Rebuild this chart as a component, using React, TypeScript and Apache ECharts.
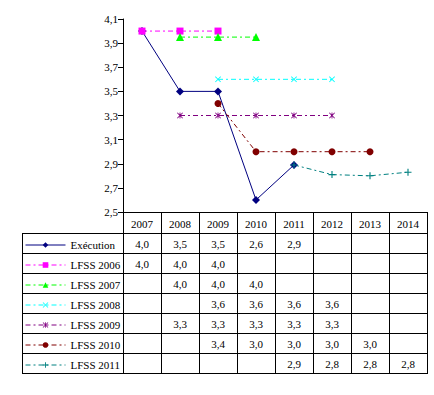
import React, { useEffect, useRef } from "react";
import * as echarts from "echarts";

const years = ["2007", "2008", "2009", "2010", "2011", "2012", "2013", "2014"];
const execution = [4.0, 3.5, 3.5, 2.6, 2.89, null, null, null];
const lfss2006 = [4.0, 4.0, 4.0, null, null, null, null, null];
const lfss2007 = [null, 3.95, 3.95, 3.95, null, null, null, null];
const lfss2008 = [null, null, 3.6, 3.6, 3.6, 3.6, null, null];
const lfss2009 = [null, 3.3, 3.3, 3.3, 3.3, 3.3, null, null];
const lfss2010 = [null, null, 3.4, 3.0, 3.0, 3.0, 3.0, null];
const lfss2011 = [null, null, null, null, 2.89, 2.81, 2.8, 2.83];

const FONT = "Liberation Serif";
const X_PATH = "path://M0,1 L1,0 L5,4 L9,0 L10,1 L6,5 L10,9 L9,10 L5,6 L1,10 L0,9 L4,5 Z";
const STAR_PATH = "path://M0,1 L1,0 L5,4 L9,0 L10,1 L6,5 L10,9 L9,10 L5,6 L1,10 L0,9 L4,5 Z M4.3,0 L5.7,0 L5.7,10 L4.3,10 Z";
const PLUS_PATH = "path://M4.2,0 L5.8,0 L5.8,4.2 L10,4.2 L10,5.8 L5.8,5.8 L5.8,10 L4.2,10 L4.2,5.8 L0,5.8 L0,4.2 L4.2,4.2 Z";

const DASHDOT = [5, 3, 2, 3];
const seriesDefs = [
  { name: "Exécution", data: execution, color: "#000080", symbol: "diamond", size: 8, dash: "solid" as any },
  { name: "LFSS 2006", data: lfss2006, color: "#FF00FF", symbol: "rect", size: 7, dash: DASHDOT },
  { name: "LFSS 2007", data: lfss2007, color: "#00FF00", symbol: "triangle", size: 8, dash: DASHDOT },
  { name: "LFSS 2008", data: lfss2008, color: "#00FFFF", symbol: X_PATH, size: 6, dash: DASHDOT },
  { name: "LFSS 2009", data: lfss2009, color: "#800080", symbol: STAR_PATH, size: 6, dash: DASHDOT },
  { name: "LFSS 2010", data: lfss2010, color: "#800000", symbol: "circle", size: 7, dash: DASHDOT },
  { name: "LFSS 2011", data: lfss2011, color: "#008080", symbol: PLUS_PATH, size: 7, dash: DASHDOT },
];

const GRID_LEFT = 123;
const GRID_RIGHT_X = 427;
const GRID_TOP = 19;
const AXIS_Y = 212;
const HEADER_H = 21;
const ROW_H = 20;
const TABLE_LEFT = 22;

const fmt = (v: number) => v.toFixed(1).replace(".", ",");

export default function App() {
  const ref = useRef<HTMLDivElement>(null);
  useEffect(() => {
    if (!ref.current) return;
    const chart = echarts.init(ref.current, null, { renderer: "svg" });
    const colW = (GRID_RIGHT_X - GRID_LEFT) / years.length;
    const tableTop = AXIS_Y + HEADER_H;
    const tableBottom = tableTop + ROW_H * seriesDefs.length;
    const graphics: any[] = [];
    const lineStyle = { stroke: "#000", lineWidth: 1 };
    for (let r = 0; r <= seriesDefs.length; r++) {
      const y = tableTop + r * ROW_H + 0.5;
      graphics.push({ type: "line", shape: { x1: TABLE_LEFT, y1: y, x2: GRID_RIGHT_X + 1, y2: y }, style: lineStyle, silent: true });
    }
    graphics.push({ type: "line", shape: { x1: TABLE_LEFT + 0.5, y1: tableTop, x2: TABLE_LEFT + 0.5, y2: tableBottom + 1 }, style: lineStyle, silent: true });
    for (let c = 0; c <= years.length; c++) {
      const x = Math.round(GRID_LEFT + c * colW) + 0.5;
      graphics.push({ type: "line", shape: { x1: x, y1: AXIS_Y, x2: x, y2: tableBottom + 1 }, style: lineStyle, silent: true });
    }
    years.forEach((y, c) => {
      graphics.push({
        type: "text",
        x: GRID_LEFT + (c + 0.5) * colW,
        y: AXIS_Y + HEADER_H / 2 + 1,
        style: { text: y, fontFamily: FONT, fontSize: 11, fill: "#000", align: "center", verticalAlign: "middle" },
        silent: true,
      });
    });
    seriesDefs.forEach((s, r) => {
      s.data.forEach((v, c) => {
        if (v == null) return;
        graphics.push({
          type: "text",
          x: GRID_LEFT + (c + 0.5) * colW,
          y: tableTop + r * ROW_H + ROW_H / 2 + 1,
          style: { text: fmt(v), fontFamily: FONT, fontSize: 11, fill: "#000", align: "center", verticalAlign: "middle" },
          silent: true,
        });
      });
    });

    const legends = seriesDefs.map((s, r) => ({
      orient: "horizontal",
      left: TABLE_LEFT + 3,
      top: tableTop + r * ROW_H + ROW_H / 2 - 3.5,
      padding: 0,
      itemWidth: 40,
      itemHeight: 7,
      textStyle: { fontFamily: FONT, fontSize: 11, color: "#000" },
      lineStyle: { width: 1 },
      selectedMode: false,
      data: [s.name],
    }));

    chart.setOption({
      animation: false,
      backgroundColor: "#fff",
      grid: { left: GRID_LEFT, right: 434 - GRID_RIGHT_X, top: GRID_TOP, bottom: 395 - AXIS_Y, containLabel: false },
      xAxis: {
        type: "category",
        data: years,
        boundaryGap: true,
        axisLine: { lineStyle: { color: "#000", width: 1 } },
        axisTick: { show: false },
        axisLabel: { show: false },
        splitLine: { show: false },
      },
      yAxis: {
        type: "value",
        min: 2.5,
        max: 4.1,
        interval: 0.2,
        axisLine: { show: true, lineStyle: { color: "#000", width: 1 } },
        axisTick: { show: true, length: 5, lineStyle: { color: "#000" } },
        axisLabel: { formatter: (v: number) => fmt(v), color: "#000", fontFamily: FONT, fontSize: 11, margin: 5 },
        splitLine: { show: false },
      },
      legend: legends,
      series: seriesDefs.map((s) => ({
        name: s.name,
        type: "line",
        data: s.data,
        connectNulls: false,
        symbol: s.symbol,
        symbolSize: s.size,
        showAllSymbol: true,
        itemStyle: { color: s.color, borderWidth: 0 },
        lineStyle: { color: s.color, width: 1, type: s.dash },
        emphasis: { disabled: true },
      })),
      graphic: graphics,
    });
    return () => chart.dispose();
  }, []);
  return <div ref={ref} style={{ width: 434, height: 395, position: "absolute", left: 0, top: 0 }} />;
}
